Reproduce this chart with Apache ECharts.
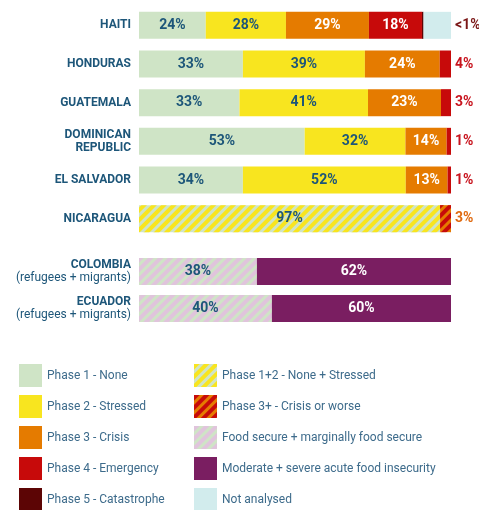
<!DOCTYPE html>
<html lang="en" style="height: 100%">
<head>
  <meta charset="utf-8">
</head>
<body style="height: 100%; margin: 0; background: #fff">
  <div id="container" style="width: 479px; height: 510px"></div>

  <script type="text/javascript" src="https://fastly.jsdelivr.net/npm/echarts@6/dist/echarts.min.js"></script>
  <script type="text/javascript">
// countries, IPC phases (share of bar width, %)
var countriesIpc = ['HAITI', 'HONDURAS', 'GUATEMALA', 'DOMINICAN\nREPUBLIC', 'EL SALVADOR', 'NICARAGUA'];
var phase1 = [21.4, 33.3, 32.2, 53.1, 33.3, null];
var phase2 = [25.7, 39.1, 41.2, 32.3, 52.2, null];
var phase3 = [26.6, 24.0, 23.4, 13.2, 13.4, null];
var phase4 = [17.0, 3.6, 3.2, 1.4, 1.1, null];
var phase5 = [0.5, null, null, null, null, null];
var notAnalysed = [8.8, null, null, null, null, null];
var phase12 = [null, null, null, null, null, 96.5];
var phase3plus = [null, null, null, null, null, 3.5];

var lab1 = ['24%', '33%', '33%', '53%', '34%', ''];
var lab2 = ['28%', '39%', '41%', '32%', '52%', ''];
var lab3 = ['29%', '24%', '23%', '14%', '13%', ''];
var lab4 = ['18%', '4%', '3%', '1%', '1%', ''];
var labNa = ['<1%', '', '', '', '', ''];
var lab12 = ['', '', '', '', '', '97%'];
var lab3plus = ['', '', '', '', '', '3%'];

// refugees + migrants (FIES)
var countriesFies = ['COLOMBIA\n(refugees + migrants)', 'ECUADOR\n(refugees + migrants)'];
var foodSecure = [37.8, 42.6];
var moderateSevere = [62.2, 57.4];
var labFs = ['38%', '40%'];
var labMs = ['62%', '60%'];

var C = {
  green: '#cfe4c6', yellow: '#f8e51f', orange: '#e57b00', red: '#c70a0a',
  dark: '#5c0505', na: '#d2eced', purple: '#7a1e61', pink: '#e0c4dc',
  text: '#1d5679', legend: '#3d6b8b'
};

var dom = document.getElementById('container');
var myChart = echarts.init(dom, null, { renderer: 'canvas' });

function stripes(color) {
  return { symbol: 'rect', symbolSize: 1, color: color, dashArrayX: [1, 0], dashArrayY: [3.5, 2.5], rotation: -Math.PI / 4 };
}

// inside label unless index is in outIdx; outside ones go right of the bar
function items(values, labels, inColor, outIdx, outColor) {
  return values.map(function (v, i) {
    if (v == null) return null;
    var out = outIdx.indexOf(i) >= 0;
    return {
      value: v,
      label: {
        show: labels[i] !== '',
        formatter: labels[i],
        position: out ? 'right' : 'inside',
        distance: 4,
        color: out ? outColor : inColor,
        fontWeight: 'bold',
        fontSize: 14,
        fontFamily: 'Roboto'
      }
    };
  });
}

function bar(name, color, data, gridIdx, decal) {
  return {
    name: name,
    type: 'bar',
    stack: 's' + gridIdx,
    xAxisIndex: gridIdx,
    yAxisIndex: gridIdx,
    barWidth: 27,
    itemStyle: { color: color, decal: decal || null },
    emphasis: { disabled: true },
    data: data
  };
}

var yLabel = {
  margin: 8,
  align: 'right',
  lineHeight: 13,
  formatter: function (v) {
    var p = v.split('\n');
    if (p.length > 1 && p[1].charAt(0) === '(') {
      return '{b|' + p[0] + '}\n{s|' + p[1] + '}';
    }
    return p.map(function (s) { return '{b|' + s + '}'; }).join('\n');
  },
  rich: {
    b: { fontFamily: 'Roboto', fontWeight: 'bold', fontSize: 12, color: C.text, lineHeight: 13, align: 'right' },
    s: { fontFamily: 'Roboto', fontSize: 12, color: C.text, lineHeight: 13, align: 'right' }
  }
};

var legendText = { fontFamily: 'Roboto', fontSize: 12, color: C.legend };

option = {
  animation: false,
  grid: [
    { left: 139, right: 28, top: 6, height: 232 },
    { left: 139, right: 28, top: 253, height: 74 }
  ],
  xAxis: [
    { type: 'value', gridIndex: 0, min: 0, max: 100, show: false },
    { type: 'value', gridIndex: 1, min: 0, max: 100, show: false }
  ],
  yAxis: [
    { type: 'category', gridIndex: 0, inverse: true, data: countriesIpc,
      axisLine: { show: false }, axisTick: { show: false }, axisLabel: yLabel },
    { type: 'category', gridIndex: 1, inverse: true, data: countriesFies,
      axisLine: { show: false }, axisTick: { show: false }, axisLabel: yLabel }
  ],
  legend: [
    {
      orient: 'vertical', left: 19, top: 364, height: 170, itemWidth: 23, itemHeight: 23, itemGap: 8,
      icon: 'rect', padding: 0, selectedMode: false, textStyle: legendText,
      data: ['Phase 1 - None', 'Phase 2 - Stressed', 'Phase 3 - Crisis', 'Phase 4 - Emergency', 'Phase 5 - Catastrophe']
    },
    {
      orient: 'vertical', left: 194, top: 364, height: 170, itemWidth: 23, itemHeight: 23, itemGap: 8,
      icon: 'rect', padding: 0, selectedMode: false, textStyle: legendText,
      data: ['Phase 1+2 - None + Stressed', 'Phase 3+ - Crisis or worse', 'Food secure + marginally food secure',
        'Moderate + severe acute food insecurity', 'Not analysed']
    }
  ],
  series: [
    bar('Phase 1 - None', C.green, items(phase1, lab1, C.text, [], null), 0),
    bar('Phase 2 - Stressed', C.yellow, items(phase2, lab2, C.text, [], null), 0),
    bar('Phase 3 - Crisis', C.orange, items(phase3, lab3, '#fff', [], null), 0),
    bar('Phase 4 - Emergency', C.red, items(phase4, lab4, '#fff', [1, 2, 3, 4], '#c8141e'), 0),
    bar('Phase 5 - Catastrophe', C.dark, items(phase5, ['', '', '', '', '', ''], '#fff', [], null), 0),
    bar('Not analysed', C.na, items(notAnalysed, labNa, C.text, [0], '#7a1616'), 0),
    bar('Phase 1+2 - None + Stressed', C.green, items(phase12, lab12, C.text, [], null), 0, stripes(C.yellow)),
    bar('Phase 3+ - Crisis or worse', C.orange, items(phase3plus, lab3plus, '#fff', [5], '#e06a10'), 0, stripes(C.red)),
    bar('Food secure + marginally food secure', C.green, items(foodSecure, labFs, C.text, [], null), 1, stripes(C.pink)),
    bar('Moderate + severe acute food insecurity', C.purple, items(moderateSevere, labMs, '#fff', [], null), 1)
  ]
};

myChart.setOption(option);
  </script>
</body>
</html>
